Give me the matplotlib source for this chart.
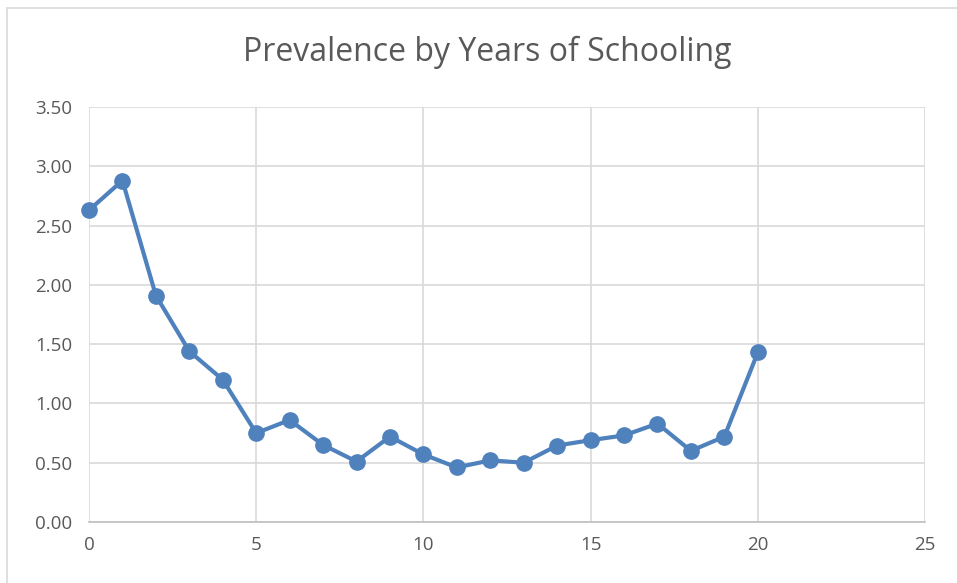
import matplotlib
matplotlib.use("Agg")
import matplotlib.pyplot as plt
from matplotlib.patches import Rectangle

# years of schooling vs prevalence
years = [0, 1, 2, 3, 4, 5, 6, 7, 8, 9, 10, 11, 12, 13, 14, 15, 16, 17, 18, 19, 20]
prevalence = [2.63, 2.88, 1.91, 1.44, 1.20, 0.75, 0.86, 0.65, 0.51, 0.72, 0.57,
              0.46, 0.52, 0.50, 0.645, 0.69, 0.73, 0.83, 0.60, 0.72, 1.43]
yticks = [0, 0.5, 1.0, 1.5, 2.0, 2.5, 3.0, 3.5]
xticks = [0, 5, 10, 15, 20, 25]

plt.rcParams['font.family'] = ['Open Sans', 'DejaVu Sans']
txt = '#595959'
grid = '#d9d9d9'

W, H = 957, 583
fig = plt.figure(figsize=(W / 100, H / 100), dpi=100)
fig.patch.set_facecolor('white')

# outer chart border
fig.patches.append(Rectangle((7 / W, -0.05), 1.1, 1 - 8 / H + 0.05,
                             transform=fig.transFigure, fill=False,
                             edgecolor=grid, lw=1.2))

ax = fig.add_axes([89 / W, 61 / H, (925 - 89) / W, (522 - 107) / H])
ax.plot(years, prevalence, color='#4f81bd', lw=3, marker='o', ms=11,
        markeredgecolor='#4f81bd', zorder=3, clip_on=False)

ax.set_xlim(0, 25)
ax.set_ylim(0, 3.5)
ax.set_xticks(xticks)
ax.set_yticks(yticks)
ax.set_yticklabels(['%.2f' % v for v in yticks])
ax.grid(True, color=grid, lw=1.2)
ax.set_axisbelow(True)
for s in ['top', 'right', 'left']:
    ax.spines[s].set_visible(False)
ax.spines['bottom'].set_color('#bfbfbf')
ax.spines['bottom'].set_linewidth(1.2)
ax.tick_params(length=0, labelsize=13.5, colors=txt, pad=10)
ax.tick_params(axis='y', pad=12)

fig.text((242 + 733) / 2 / W, 1 - 52 / H, 'Prevalence by Years of Schooling',
         ha='center', va='center', fontsize=23, color=txt)

fig.savefig('out.png', dpi=100)
